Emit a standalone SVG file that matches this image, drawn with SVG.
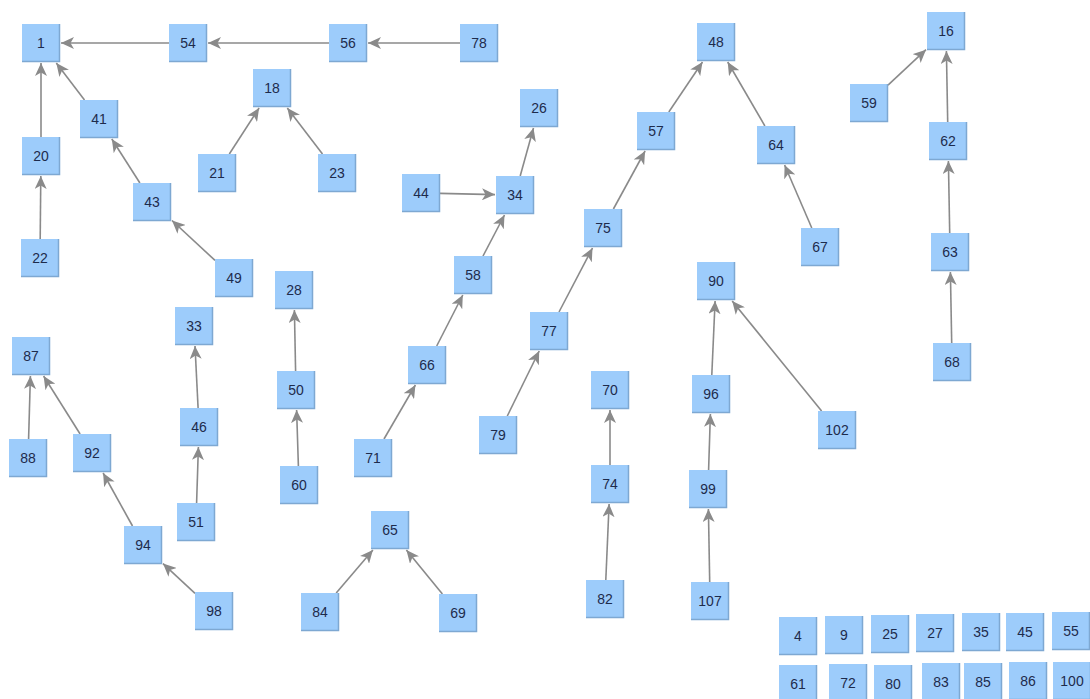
<svg xmlns="http://www.w3.org/2000/svg" width="1090" height="699" viewBox="0 0 1090 699">
<style>
.b{fill:#9dccfb}
.s{fill:none;stroke:#7ea8d2;stroke-width:1.5}
.t{font-family:"Liberation Sans",Arial,sans-serif;font-size:14px;fill:#1d2b4c;text-anchor:middle}
.e{stroke:#8a8a8a;stroke-width:1.6;fill:none;marker-end:url(#ah)}
</style>
<defs>
<marker id="ah" markerUnits="userSpaceOnUse" markerWidth="14" markerHeight="12" refX="13" refY="6" orient="auto">
<path d="M0,0 L13,6 L0,12 L3.5,6 z" fill="#8a8a8a"/>
</marker>
<g id="box"><rect class="b" x="-19" y="-19" width="38" height="38"/><path class="s" d="M18.5,-19V18.5H-19"/></g>
</defs>
<rect width="1090" height="699" fill="#ffffff"/>
<g id="connectors">
<line class="e" x1="169" y1="43" x2="61" y2="43"/>
<line class="e" x1="329" y1="43" x2="208" y2="43"/>
<line class="e" x1="460" y1="43" x2="368" y2="43"/>
<line class="e" x1="41" y1="137" x2="41" y2="63"/>
<line class="e" x1="84.5" y1="100" x2="56.3" y2="63"/>
<line class="e" x1="40.2" y1="239" x2="40.8" y2="176"/>
<line class="e" x1="139.9" y1="183" x2="111.8" y2="139"/>
<line class="e" x1="215" y1="260.4" x2="172" y2="220.5"/>
<line class="e" x1="229.3" y1="154" x2="259.1" y2="108"/>
<line class="e" x1="322.5" y1="154" x2="287.3" y2="108"/>
<line class="e" x1="440" y1="193.4" x2="495" y2="194.6"/>
<line class="e" x1="520.2" y1="176" x2="533.5" y2="128"/>
<line class="e" x1="483" y1="256" x2="504.5" y2="215"/>
<line class="e" x1="436.7" y1="346" x2="462.8" y2="295"/>
<line class="e" x1="384" y1="439" x2="415.4" y2="385"/>
<line class="e" x1="507.3" y1="416" x2="539.2" y2="351"/>
<line class="e" x1="559" y1="312" x2="592.5" y2="248"/>
<line class="e" x1="613.4" y1="209" x2="645.1" y2="151"/>
<line class="e" x1="668.8" y1="112" x2="702.5" y2="62"/>
<line class="e" x1="764.9" y1="126" x2="727.7" y2="62"/>
<line class="e" x1="811.8" y1="228" x2="784.6" y2="165"/>
<line class="e" x1="295.6" y1="371" x2="294.4" y2="310"/>
<line class="e" x1="298.4" y1="466" x2="296.6" y2="410"/>
<line class="e" x1="198.1" y1="408" x2="195" y2="346"/>
<line class="e" x1="196.6" y1="503" x2="198.4" y2="447"/>
<line class="e" x1="28.6" y1="439" x2="30.4" y2="376"/>
<line class="e" x1="80.1" y1="434" x2="43.6" y2="376"/>
<line class="e" x1="132.5" y1="526" x2="103.1" y2="473"/>
<line class="e" x1="195" y1="593.3" x2="163" y2="563.6"/>
<line class="e" x1="336.2" y1="593" x2="372.9" y2="550"/>
<line class="e" x1="442.4" y1="594" x2="406.4" y2="550"/>
<line class="e" x1="610" y1="465" x2="610" y2="410"/>
<line class="e" x1="605.8" y1="580" x2="609.1" y2="504"/>
<line class="e" x1="711.8" y1="375" x2="715.1" y2="301"/>
<line class="e" x1="708.6" y1="470" x2="710.4" y2="414"/>
<line class="e" x1="709.7" y1="582" x2="708.4" y2="509"/>
<line class="e" x1="821.6" y1="411" x2="732.2" y2="301"/>
<line class="e" x1="888" y1="85.2" x2="926" y2="49.7"/>
<line class="e" x1="947.7" y1="122" x2="946.4" y2="51"/>
<line class="e" x1="949.7" y1="233" x2="948.4" y2="161"/>
<line class="e" x1="951.7" y1="343" x2="950.4" y2="272"/>
</g>
<g id="n1" transform="translate(41,43)"><use href="#box"/><text class="t" y="5">1</text></g>
<g id="n54" transform="translate(188,43)"><use href="#box"/><text class="t" y="5">54</text></g>
<g id="n56" transform="translate(348,43)"><use href="#box"/><text class="t" y="5">56</text></g>
<g id="n78" transform="translate(479,43)"><use href="#box"/><text class="t" y="5">78</text></g>
<g id="n18" transform="translate(272,88)"><use href="#box"/><text class="t" y="5">18</text></g>
<g id="n41" transform="translate(99,119)"><use href="#box"/><text class="t" y="5">41</text></g>
<g id="n20" transform="translate(41,156)"><use href="#box"/><text class="t" y="5">20</text></g>
<g id="n21" transform="translate(217,173)"><use href="#box"/><text class="t" y="5">21</text></g>
<g id="n23" transform="translate(337,173)"><use href="#box"/><text class="t" y="5">23</text></g>
<g id="n43" transform="translate(152,202)"><use href="#box"/><text class="t" y="5">43</text></g>
<g id="n22" transform="translate(40,258)"><use href="#box"/><text class="t" y="5">22</text></g>
<g id="n49" transform="translate(234,278)"><use href="#box"/><text class="t" y="5">49</text></g>
<g id="n44" transform="translate(421,193)"><use href="#box"/><text class="t" y="5">44</text></g>
<g id="n34" transform="translate(515,195)"><use href="#box"/><text class="t" y="5">34</text></g>
<g id="n26" transform="translate(539,108)"><use href="#box"/><text class="t" y="5">26</text></g>
<g id="n57" transform="translate(656,131)"><use href="#box"/><text class="t" y="5">57</text></g>
<g id="n48" transform="translate(716,42)"><use href="#box"/><text class="t" y="5">48</text></g>
<g id="n64" transform="translate(776,145)"><use href="#box"/><text class="t" y="5">64</text></g>
<g id="n67" transform="translate(820,247)"><use href="#box"/><text class="t" y="5">67</text></g>
<g id="n75" transform="translate(603,228)"><use href="#box"/><text class="t" y="5">75</text></g>
<g id="n58" transform="translate(473,275)"><use href="#box"/><text class="t" y="5">58</text></g>
<g id="n28" transform="translate(294,290)"><use href="#box"/><text class="t" y="5">28</text></g>
<g id="n33" transform="translate(194,326)"><use href="#box"/><text class="t" y="5">33</text></g>
<g id="n66" transform="translate(427,365)"><use href="#box"/><text class="t" y="5">66</text></g>
<g id="n50" transform="translate(296,390)"><use href="#box"/><text class="t" y="5">50</text></g>
<g id="n77" transform="translate(549,331)"><use href="#box"/><text class="t" y="5">77</text></g>
<g id="n79" transform="translate(498,435)"><use href="#box"/><text class="t" y="5">79</text></g>
<g id="n87" transform="translate(31,356)"><use href="#box"/><text class="t" y="5">87</text></g>
<g id="n88" transform="translate(28,458)"><use href="#box"/><text class="t" y="5">88</text></g>
<g id="n92" transform="translate(92,453)"><use href="#box"/><text class="t" y="5">92</text></g>
<g id="n46" transform="translate(199,427)"><use href="#box"/><text class="t" y="5">46</text></g>
<g id="n51" transform="translate(196,522)"><use href="#box"/><text class="t" y="5">51</text></g>
<g id="n60" transform="translate(299,485)"><use href="#box"/><text class="t" y="5">60</text></g>
<g id="n71" transform="translate(373,458)"><use href="#box"/><text class="t" y="5">71</text></g>
<g id="n94" transform="translate(143,545)"><use href="#box"/><text class="t" y="5">94</text></g>
<g id="n98" transform="translate(214,611)"><use href="#box"/><text class="t" y="5">98</text></g>
<g id="n65" transform="translate(390,530)"><use href="#box"/><text class="t" y="5">65</text></g>
<g id="n84" transform="translate(320,612)"><use href="#box"/><text class="t" y="5">84</text></g>
<g id="n69" transform="translate(458,613)"><use href="#box"/><text class="t" y="5">69</text></g>
<g id="n70" transform="translate(610,390)"><use href="#box"/><text class="t" y="5">70</text></g>
<g id="n74" transform="translate(610,484)"><use href="#box"/><text class="t" y="5">74</text></g>
<g id="n82" transform="translate(605,599)"><use href="#box"/><text class="t" y="5">82</text></g>
<g id="n90" transform="translate(716,281)"><use href="#box"/><text class="t" y="5">90</text></g>
<g id="n96" transform="translate(711,394)"><use href="#box"/><text class="t" y="5">96</text></g>
<g id="n99" transform="translate(708,489)"><use href="#box"/><text class="t" y="5">99</text></g>
<g id="n107" transform="translate(710,601)"><use href="#box"/><text class="t" y="5">107</text></g>
<g id="n102" transform="translate(837,430)"><use href="#box"/><text class="t" y="5">102</text></g>
<g id="n16" transform="translate(946,31)"><use href="#box"/><text class="t" y="5">16</text></g>
<g id="n59" transform="translate(869,103)"><use href="#box"/><text class="t" y="5">59</text></g>
<g id="n62" transform="translate(948,141)"><use href="#box"/><text class="t" y="5">62</text></g>
<g id="n63" transform="translate(950,252)"><use href="#box"/><text class="t" y="5">63</text></g>
<g id="n68" transform="translate(952,362)"><use href="#box"/><text class="t" y="5">68</text></g>
<g id="n4" transform="translate(798,636)"><use href="#box"/><text class="t" y="5">4</text></g>
<g id="n9" transform="translate(844,635)"><use href="#box"/><text class="t" y="5">9</text></g>
<g id="n25" transform="translate(890,634)"><use href="#box"/><text class="t" y="5">25</text></g>
<g id="n27" transform="translate(935,633)"><use href="#box"/><text class="t" y="5">27</text></g>
<g id="n35" transform="translate(981,632)"><use href="#box"/><text class="t" y="5">35</text></g>
<g id="n45" transform="translate(1025,632)"><use href="#box"/><text class="t" y="5">45</text></g>
<g id="n55" transform="translate(1071,631)"><use href="#box"/><text class="t" y="5">55</text></g>
<g id="n61" transform="translate(798,684)"><use href="#box"/><text class="t" y="5">61</text></g>
<g id="n72" transform="translate(848,683)"><use href="#box"/><text class="t" y="5">72</text></g>
<g id="n80" transform="translate(893,684)"><use href="#box"/><text class="t" y="5">80</text></g>
<g id="n83" transform="translate(941,682)"><use href="#box"/><text class="t" y="5">83</text></g>
<g id="n85" transform="translate(983,682)"><use href="#box"/><text class="t" y="5">85</text></g>
<g id="n86" transform="translate(1028,681)"><use href="#box"/><text class="t" y="5">86</text></g>
<g id="n100" transform="translate(1072,681)"><use href="#box"/><text class="t" y="5">100</text></g>
</svg>
